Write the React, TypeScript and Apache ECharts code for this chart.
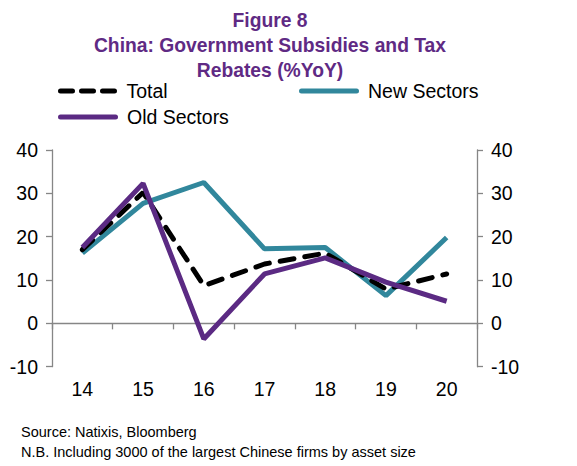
import React, { useEffect, useRef } from "react";
import * as echarts from "echarts";

const categories = ["14", "15", "16", "17", "18", "19", "20"];
const totalValues = [17.0, 30.2, 8.7, 13.7, 16.2, 7.9, 11.4];
const newSectorValues = [16.2, 27.7, 32.5, 17.2, 17.5, 6.4, 19.8];
const oldSectorValues = [17.5, 32.3, -3.6, 11.4, 15.1, 9.5, 5.1];
const yMin = -10;
const yMax = 40;
const yInterval = 10;

const titleLines = ["Figure 8", "China: Government Subsidies and Tax", "Rebates (%YoY)"];
const footerLines = [
  "Source: Natixis, Bloomberg",
  "N.B. Including 3000 of the largest Chinese firms by asset size",
];

const PURPLE_TITLE = "#5F2A84";
const PURPLE = "#5B2A83";
const TEAL = "#31879C";
const AXIS = "#868686";
const FONT = "Liberation Sans, Arial, sans-serif";

const SOLID_ICON = "path://M2.5,0H57.5A2.5,2.5,0,0,1,57.5,5H2.5A2.5,2.5,0,0,1,2.5,0Z";
const DASH_ICON =
  "path://M2.5,0H14.5A2.5,2.5,0,0,1,14.5,5H2.5A2.5,2.5,0,0,1,2.5,0Z" +
  "M23.5,0H35.5A2.5,2.5,0,0,1,35.5,5H23.5A2.5,2.5,0,0,1,23.5,0Z" +
  "M44.5,0H56.5A2.5,2.5,0,0,1,56.5,5H44.5A2.5,2.5,0,0,1,44.5,0Z";

export default function App() {
  const ref = useRef<HTMLDivElement>(null);
  useEffect(() => {
    if (!ref.current) return;
    const chart = echarts.init(ref.current, undefined, { renderer: "svg" });
    const legendCommon = {
      itemWidth: 60,
      itemHeight: 5,
      itemGap: 0,
      padding: 0,
      textStyle: { fontSize: 19.5, color: "#000", fontFamily: FONT, lineHeight: 22, padding: [0, 0, 0, 4] },
    };
    chart.setOption({
      animation: false,
      textStyle: { fontFamily: FONT },
      title: {
        text: titleLines.join("\n"),
        left: 265,
        textAlign: "center",
        top: 3,
        textStyle: {
          color: PURPLE_TITLE,
          fontSize: 19.3,
          fontWeight: "bold",
          lineHeight: 25,
          fontFamily: FONT,
        },
      },
      graphic: footerLines.map((t, i) => ({
        type: "text",
        left: 21,
        top: 424 + i * 20,
        style: { text: t, fontSize: 14.5, fill: "#000", fontFamily: FONT },
      })),
      legend: [
        { ...legendCommon, data: [{ name: "Total", icon: DASH_ICON }], left: 58, top: 80 },
        { ...legendCommon, data: [{ name: "New Sectors", icon: SOLID_ICON }], left: 299, top: 80 },
        { ...legendCommon, data: [{ name: "Old Sectors", icon: SOLID_ICON }], left: 58, top: 106 },
      ],
      grid: { left: 52, right: 100, top: 150, bottom: 99.3, containLabel: false },
      xAxis: [
        {
          type: "category",
          data: categories,
          position: "bottom",
          axisLine: { show: false, onZero: false },
          axisTick: { show: false },
          axisLabel: { fontSize: 19.5, color: "#000", margin: 12, fontFamily: FONT },
        },
        {
          type: "category",
          data: categories,
          position: "bottom",
          axisLine: { show: true, onZero: true, lineStyle: { color: AXIS, width: 1.3 } },
          axisTick: { show: true, inside: false, length: 6, lineStyle: { color: AXIS, width: 1.3 } },
          axisLabel: { show: false },
        },
      ],
      yAxis: [
        {
          type: "value",
          min: yMin,
          max: yMax,
          interval: yInterval,
          position: "left",
          splitLine: { show: false },
          axisLine: { show: true, lineStyle: { color: AXIS, width: 1.3 } },
          axisTick: { show: true, length: 6, lineStyle: { color: AXIS, width: 1.3 } },
          axisLabel: { fontSize: 19.5, color: "#000", margin: 14, fontFamily: FONT },
        },
        {
          type: "value",
          min: yMin,
          max: yMax,
          interval: yInterval,
          position: "right",
          splitLine: { show: false },
          axisLine: { show: true, lineStyle: { color: AXIS, width: 1.3 } },
          axisTick: { show: true, length: 6, lineStyle: { color: AXIS, width: 1.3 } },
          axisLabel: { fontSize: 19.5, color: "#000", margin: 14, fontFamily: FONT },
        },
      ],
      series: [
        {
          name: "New Sectors",
          type: "line",
          data: newSectorValues,
          xAxisIndex: 0,
          yAxisIndex: 0,
          symbol: "none",
          z: 2,
          color: TEAL,
          lineStyle: { color: TEAL, width: 5 },
        },
        {
          name: "Total",
          type: "line",
          data: totalValues,
          xAxisIndex: 0,
          yAxisIndex: 0,
          symbol: "none",
          z: 3,
          color: "#000",
          lineStyle: { color: "#000", width: 5, type: [14, 11], cap: "round" },
        },
        {
          name: "Old Sectors",
          type: "line",
          data: oldSectorValues,
          xAxisIndex: 0,
          yAxisIndex: 0,
          symbol: "none",
          z: 4,
          color: PURPLE,
          lineStyle: { color: PURPLE, width: 5 },
        },
      ],
    });
    return () => chart.dispose();
  }, []);
  return (
    <div
      ref={ref}
      style={{ position: "fixed", left: 0, top: 0, width: 577, height: 466, background: "#fff" }}
    />
  );
}
